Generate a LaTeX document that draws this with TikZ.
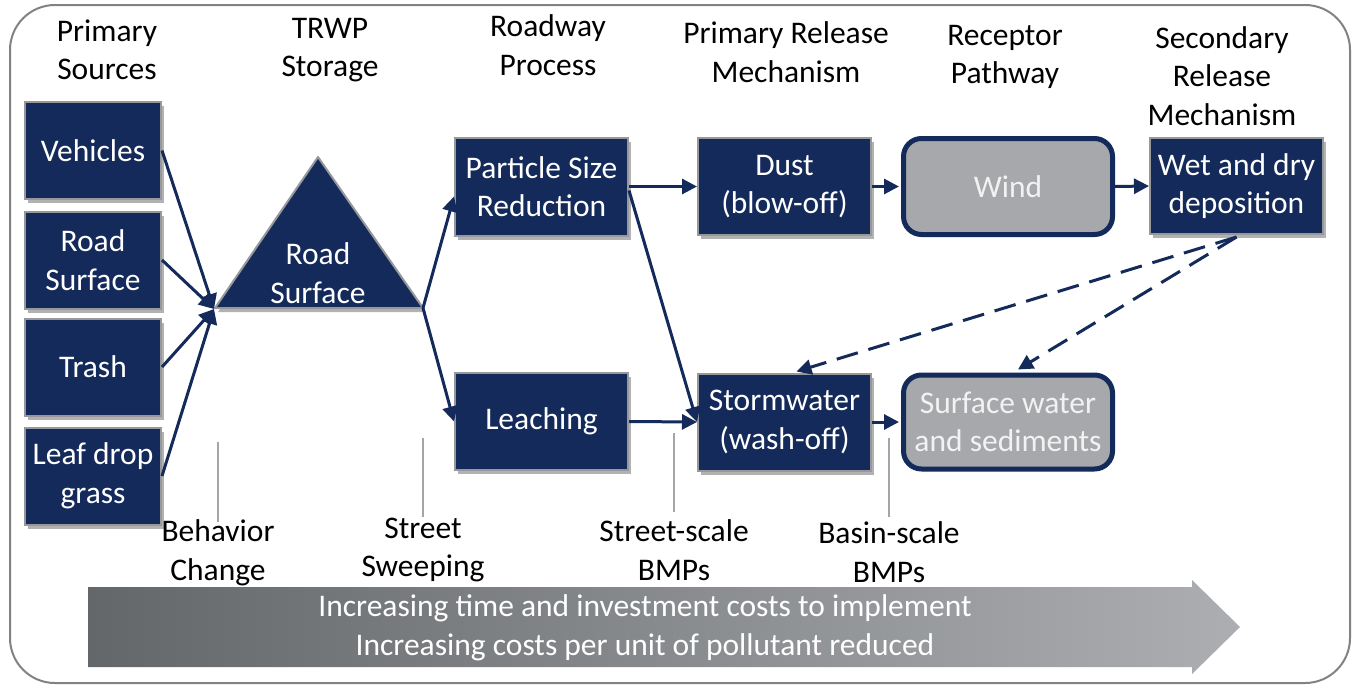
\documentclass[tikz,border=0pt]{standalone}
\usepackage{fontspec}
\setmainfont{Carlito}
\usetikzlibrary{arrows.meta,calc,shadows}
\definecolor{navy}{RGB}{20,42,90}
\definecolor{boxedge}{RGB}{150,152,155}
\definecolor{boxgray}{RGB}{166,168,171}
\definecolor{gtext}{RGB}{242,242,242}
\definecolor{tickgray}{RGB}{165,165,165}
\definecolor{framegray}{RGB}{130,130,130}
\definecolor{arrdark}{RGB}{100,103,106}
\definecolor{arrlight}{RGB}{172,174,177}
\begin{document}
\begin{tikzpicture}[x=1pt,y=-1pt,
  every node/.style={inner sep=0pt},
  lbl/.style={font=\fontsize{31.5}{38.5}\selectfont, align=center, text=black},
  nbox/.style={draw=boxedge, line width=2pt, fill=navy, text=white, align=center,
    font=\fontsize{31.5}{38.5}\selectfont,
    drop shadow={shadow xshift=3pt, shadow yshift=-4pt, opacity=0.3, fill=black}},
  gbox/.style={draw=navy, line width=5pt, fill=boxgray, rounded corners=18pt, text=gtext,
    align=center, font=\fontsize{31.5}{38.5}\selectfont},
  wtext/.style={text=white, align=center, font=\fontsize{31.5}{38.5}\selectfont},
  conn/.style={draw=navy, line width=3pt, -{Triangle[length=15pt,width=15pt]}},
  dconn/.style={conn, dash pattern=on 22pt off 11pt},
  ticky/.style={draw=tickgray, line width=2pt}
]
\useasboundingbox (0,0) rectangle (1356,686);
% outer frame
\draw[framegray, line width=2pt, rounded corners=45pt] (10,5) rectangle (1350,683);

% headers
\node[lbl] (h1) at (107,50) {Primary\\Sources};
\node[lbl] (h2) at (330,50) {TRWP\\Storage};
\node[lbl] (h3) at (548,45) {Roadway\\Process};
\node[lbl] (h4) at (786,52) {Primary Release\\Mechanism};
\node[lbl] (h5) at (1005,57) {Receptor\\Pathway};
\node[lbl] (h6) at (1222,76) {Secondary\\Release\\Mechanism};

% sources
\node[nbox, minimum width=136pt, minimum height=97pt] (veh) at (93,150.5) {Vehicles};
\node[nbox, minimum width=136pt, minimum height=97pt] (rs) at (93,260) {Road\\Surface};
\node[nbox, minimum width=136pt, minimum height=97pt] (trash) at (93,367) {Trash};
\node[nbox, minimum width=136pt, minimum height=97pt] (leaf) at (93,476) {Leaf drop\\grass};

% triangle
\coordinate (tl) at (215,308);
\coordinate (tr) at (423,308);
\coordinate (ta) at (318,157);
\filldraw[draw=boxedge, line width=2pt, fill=navy, line join=round,
  drop shadow={shadow xshift=3pt, shadow yshift=-4pt, opacity=0.3, fill=black}] (tl) -- (ta) -- (tr) -- cycle;
\node[wtext] (tri) at (318,273) {Road\\Surface};

% process boxes
\node[nbox, minimum width=173pt, minimum height=98pt] (pr) at (541.5,186.5) {Particle Size\\Reduction};
\node[nbox, minimum width=173pt, minimum height=97pt] (dust) at (784.5,186.5) {Dust\\(blow-off)};
\node[gbox, minimum width=209pt, minimum height=96pt] (wind) at (1008,186.5) {Wind};
\node[nbox, minimum width=173pt, minimum height=96pt] (wet) at (1236.5,186) {Wet and dry\\deposition};
\node[nbox, minimum width=173pt, minimum height=97pt] (lea) at (541.5,421.5) {Leaching};
\node[nbox, minimum width=173pt, minimum height=97pt] (storm) at (784.5,422) {Stormwater\\(wash-off)};
\node[gbox, minimum width=209pt, minimum height=94pt] (surf) at (1008,422) {Surface water\\and sediments};

% connectors
\draw[conn] (veh.east) -- ($(tl)+(-1,1)$);
\draw[conn] (rs.east) -- ($(tl)+(-1,1)$);
\draw[conn] (trash.east) -- ($(tl)+(-1,1)$);
\draw[conn] (leaf.east) -- ($(tl)+(-1,1)$);
\draw[conn] (tr) -- ($(pr.west)+(0,10)$);
\draw[conn] (tr) -- (lea.west);
\draw[conn] (pr.east) -- (dust.west);
\draw[conn] ($(pr.east)+(0,4)$) -- (storm.west);
\draw[conn] (lea.east) -- (storm.west);
\draw[conn] (dust.east) -- ($(wind.west)+(-2,0)$);
\draw[conn] (wind.east) -- (wet.west);
\draw[conn] (storm.east) -- ($(surf.west)+(-2,0)$);
\draw[dconn] ($(wet.south)+(0,2)$) -- ($(storm.north)+(12,-1)$);
\draw[dconn] ($(wet.south)+(0,2)$) -- ($(surf.north)+(10,-3)$);

% BMP labels and ticks
\node[lbl] (bc) at (218,553) {Behavior\\Change};
\node[lbl] (ss) at (423,550) {Street\\Sweeping};
\node[lbl] (sb) at (674,550) {Street-scale\\BMPs};
\node[lbl] (bb) at (889,552) {Basin-scale\\BMPs};
\coordinate (t1a) at (218,442); \coordinate (t1b) at (218,522);
\coordinate (t2a) at (423,438); \coordinate (t2b) at (423,517);
\coordinate (t3a) at (674,433); \coordinate (t3b) at (674,512);
\coordinate (t4a) at (889,438); \coordinate (t4b) at (889,517);
\draw[ticky] (t1a) -- (t1b);
\draw[ticky] (t2a) -- (t2b);
\draw[ticky] (t3a) -- (t3b);
\draw[ticky] (t4a) -- (t4b);

% bottom arrow
\shade[left color=arrdark, right color=arrlight]
  (88,587) -- (1192,587) -- (1192,580) -- (1240,627) -- (1192,674) -- (1192,667) -- (88,667) -- cycle;
\node[wtext] (cost) at (645,628) {Increasing time and investment costs to implement\\Increasing costs per unit of pollutant reduced};
\end{tikzpicture}
\end{document}
